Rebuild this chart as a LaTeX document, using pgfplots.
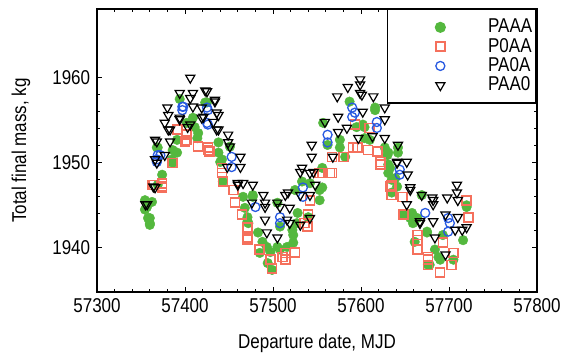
\documentclass[border=0pt]{standalone}
\usepackage{fontspec}
\setmainfont{Liberation Sans}[FakeStretch=0.85]
\usepackage{pgfplots}
\pgfplotsset{compat=1.18}
\definecolor{cgreen}{RGB}{84,184,62}
\definecolor{cred}{RGB}{245,112,92}
\definecolor{cblue}{RGB}{40,90,225}
\begin{document}
\fontsize{20bp}{24bp}\selectfont
\begin{tikzpicture}
\begin{axis}[
  at={(0,0)}, anchor=south west,
  scale only axis, width=440bp, height=283bp,
  xmin=57300, xmax=57800, ymin=1934.8, ymax=1968.1,
  xtick={57300,57400,...,57800}, ytick={1940,1950,1960},
  scaled x ticks=false, scaled y ticks=false,
  minor x tick num=4, minor y tick num=4,
  tick align=inside, major tick length=5bp, minor tick length=3bp,
  every tick/.style={black, line width=0.8bp},
  axis line style={line width=1.5bp},
  /pgf/number format/assume math mode=true,
  /pgf/number format/1000 sep={},
  xlabel={Departure date, MJD}, ylabel={Total final mass, kg},
  every axis x label/.style={at={(axis description cs:0.5,0)}, yshift=-56bp, anchor=base},
  every axis y label/.style={at={(axis description cs:0,0.5)}, xshift=-76bp, rotate=90, anchor=center},
  legend style={at={(rel axis cs:1,1)}, anchor=north east, draw=black, line width=1.5bp, fill=white,
    inner xsep=4bp, inner ysep=8bp, nodes={inner xsep=0bp, inner ysep=1.2bp},
    font=\fontsize{20bp}{20bp}\selectfont},
  legend cell align=left,
  legend image code/.code={\path (0bp,0bp) (95bp,0bp); \draw[#1] plot coordinates {(48bp,0bp)};},
]
\addplot[only marks, mark=*, color=cgreen, mark size=4.8bp] coordinates {
(57354.5,1944.5) (57354.5,1945.6) (57356.8,1944.8) (57358,1943.5) (57360,1942.9) (57360,1943.5)
(57362.5,1945.4) (57360,1942.7) (57369,1947.4) (57369,1951.8) (57374,1948.6) (57386,1950.0)
(57385,1950.4) (57386,1951.5) (57368,1951.8) (57391,1952.7) (57391,1951.2) (57394,1957.5)
(57402,1954.7) (57409,1955.3) (57411,1954.2) (57414,1952.9) (57415,1953.5) (57423,1957.1)
(57425,1957.1) (57438,1952.4) (57438,1951.2) (57440,1950.1) (57442,1950.4) (57451,1951.9)
(57443,1947.8) (57466,1946.0) (57477,1946.0) (57477,1946.2) (57468,1944.7) (57471,1943.6)
(57472,1942.9) (57471,1943.1) (57483,1941.8) (57488,1940.7) (57485,1939.4) (57493,1940.1)
(57497,1939.5) (57494,1938.2) (57499,1937.4) (57505,1940.1) (57505,1945.3) (57508,1939.8)
(57508,1942.5) (57516,1940.1) (57523,1941.5) (57523,1940.6) (57522,1942.1) (57527,1942.9)
(57528,1944.1) (57525,1946.8) (57533,1947.8) (57540,1943.6) (57542,1947.6) (57553,1946.8)
(57553,1945.6) (57556,1949.4) (57556,1947.1) (57557,1954.7) (57562,1952.1) (57576,1952.7)
(57576,1951.8) (57582,1950.7) (57587,1957.2) (57595,1954.2) (57602,1954.5) (57604,1954.2)
(57604,1952.9) (57610,1952.7) (57616,1956.5) (57616,1956.2) (57627,1951.8) (57630,1950.9)
(57631,1951.2) (57642,1951.8) (57642,1951.2) (57631,1949.8) (57631,1948.8) (57633,1949.4)
(57635,1948.0) (57639,1948.2) (57641,1947.2) (57635,1946.5) (57669,1946.2) (57648,1943.9)
(57656,1943.5) (57659,1942.9) (57658,1944.1) (57664,1943.5) (57675,1941.9) (57675,1941.8)
(57661,1940.7) (57684,1939.8) (57688,1938.9) (57678,1938.0) (57676,1938.0) (57690,1938.6)
(57705,1938.6) (57693,1941.5) (57716,1940.9) (57720,1944.8) (57720,1945.0)
};
\addlegendentry{PAAA}
\addplot[only marks, mark=square, draw=cred, mark size=4.5bp, line width=1.6bp] coordinates {
(57363,1947.4) (57364,1947.4) (57374,1947.2) (57374,1947.6) (57374,1947.1) (57386,1950.0)
(57391,1953.9) (57392,1953.9) (57400,1952.5) (57402,1953.3) (57402,1952.7) (57415,1951.9)
(57426,1951.5) (57428,1951.3) (57426,1951.8) (57442,1949.4) (57442,1948.8) (57443,1947.8)
(57455,1946.8) (57457,1945.3) (57465,1943.9) (57471,1942.4) (57471,1941.2) (57471,1941.0)
(57485,1939.8) (57497,1938.6) (57499,1937.6) (57511,1938.9) (57514,1939.4) (57514,1938.6)
(57525,1939.4) (57525,1939.5) (57539,1942.5) (57536,1942.9) (57540,1943.9) (57542,1945.6)
(57553,1948.8) (57556,1948.8) (57565,1948.8) (57567,1950.7) (57567,1948.8) (57580,1950.7)
(57591,1951.8) (57593,1954.5) (57596,1951.8) (57608,1951.5) (57610,1954.1) (57619,1951.3)
(57622,1950.1) (57622,1949.8) (57633,1947.2) (57635,1947.4) (57635,1946.2) (57647,1946.0)
(57648,1943.9) (57664,1941.5) (57664,1940.9) (57664,1939.8) (57676,1938.9) (57676,1938.6)
(57676,1938.0) (57690,1937.1) (57693,1940.6) (57703,1938.0) (57705,1939.4) (57720,1945.6)
(57722,1943.6)
};
\addlegendentry{P0AA}
\addplot[only marks, mark=o, draw=cblue, mark size=4.5bp, line width=1.3bp] coordinates {
(57368,1950.4) (57368,1950.1) (57369,1950.9) (57372,1950.9) (57397,1956.6) (57398,1956.6)
(57397,1956.2) (57425,1956.5) (57426,1956.2) (57425,1954.7) (57426,1954.5) (57453,1950.7)
(57453,1949.5) (57480,1944.8) (57508,1943.6) (57508,1942.9) (57534,1947.1) (57534,1946.0)
(57562,1953.3) (57562,1952.4) (57590,1956.5) (57590,1955.4) (57593,1955.9) (57618,1954.8)
(57618,1954.1) (57644,1949.2) (57644,1948.6) (57673,1944.1) (57699,1943.5) (57701,1942.9)
(57699,1941.9)
};
\addlegendentry{PA0A}
\addplot[only marks, mark=triangle, draw=black, mark size=5.3bp, line width=1.2bp, mark options={rotate=180}] coordinates {
(57355,1945.1) (57357,1945.1) (57364,1947.2) (57366,1947.1) (57366,1952.7) (57368,1952.5)
(57366,1950.4) (57368,1950.0) (57377,1950.9) (57383,1952.5) (57377,1954.7) (57380,1956.5)
(57381,1955.6) (57381,1953.9) (57383,1953.9) (57394,1958.2) (57394,1955.3) (57394,1955.1)
(57403,1954.2) (57406,1960.0) (57409,1958.2) (57406,1957.6) (57409,1956.6) (57406,1954.5)
(57419,1956.5) (57421,1955.4) (57419,1955.3) (57423,1958.5) (57425,1958.4) (57432,1954.8)
(57434,1957.4) (57434,1957.2) (57436,1955.9) (57438,1955.6) (57436,1953.9) (57438,1953.9)
(57449,1953.3) (57449,1952.4) (57451,1951.9) (57448,1949.5) (57463,1950.7) (57463,1949.5)
(57460,1947.6) (57460,1947.4) (57466,1947.6) (57477,1947.4) (57489,1946.2) (57476,1945.3)
(57491,1944.8) (57491,1945.3) (57491,1943.3) (57493,1941.8) (57505,1945.3) (57505,1941.2)
(57514,1946.2) (57517,1946.5) (57519,1944.7) (57516,1943.3) (57519,1942.9) (57508,1944.8)
(57531,1948.9) (57531,1946.2) (57531,1942.7) (57533,1949.4) (57542,1948.8) (57542,1946.2)
(57542,1943.5) (57544,1950.7) (57544,1952.1) (57546,1948.9) (57548,1947.4) (57559,1954.8)
(57568,1950.7) (57573,1957.8) (57574,1955.4) (57574,1953.6) (57584,1954.1) (57585,1958.9)
(57597,1952.9) (57599,1959.8) (57599,1959.2) (57599,1958.2) (57601,1958.0) (57602,1956.0)
(57613,1953.1) (57614,1957.8) (57627,1956.5) (57627,1955.1) (57627,1952.9) (57642,1952.1)
(57641,1950.1) (57641,1950.0) (57652,1950.1) (57653,1948.6) (57656,1947.1) (57656,1946.8)
(57669,1946.2) (57652,1945.1) (57667,1943.1) (57667,1942.9) (57681,1945.9) (57682,1945.6)
(57682,1945.1) (57682,1943.1) (57684,1941.2) (57696,1939.2) (57696,1943.9) (57698,1945.9)
(57709,1947.4) (57709,1946.5) (57710,1945.6) (57710,1943.6) (57707,1942.1) (57715,1942.1)
(57720,1942.4)
};
\addlegendentry{PAA0}
\end{axis}
\pgfresetboundingbox
\useasboundingbox (-97bp,-61bp) rectangle (465bp,292bp);
\end{tikzpicture}
\end{document}
